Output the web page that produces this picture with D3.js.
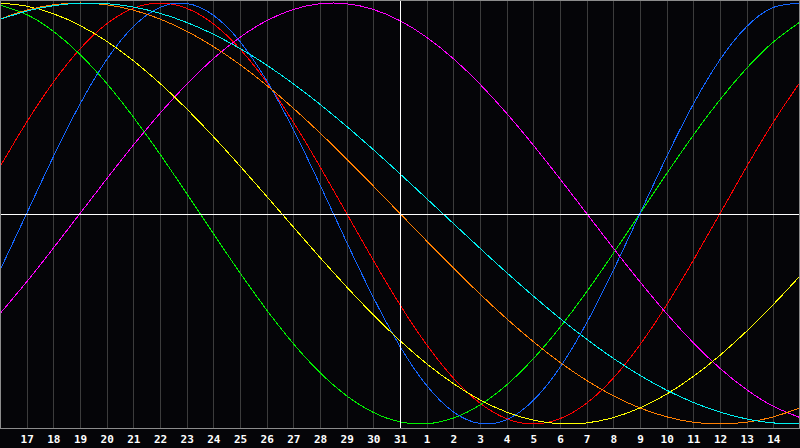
<!DOCTYPE html>
<html><head><meta charset="utf-8">
<script src="https://cdn.jsdelivr.net/npm/d3@7/dist/d3.min.js"></script>
<style>
html,body{margin:0;padding:0;background:#050508;}
svg{display:block;}
</style></head>
<body>
<svg id="chart" width="800" height="448"></svg>
<script>
// Day labels (index 0 = day 16 at left edge, index 30 = day 15 at right edge)
const days = ["16","17","18","19","20","21","22","23","24","25","26","27","28","29","30","31",
              "1","2","3","4","5","6","7","8","9","10","11","12","13","14","15"];
const tickDays = days.slice(1, 30);
const centerDay = "31";

// Series values (percent, -100..100), one value per day
const red = [22.25,43.39,62.35,78.18,90.10,97.49,100,97.49,90.10,78.18,62.35,43.39,22.25,0,-22.25,-43.39,
  -62.35,-78.18,-90.10,-97.49,-100,-97.49,-90.10,-78.18,-62.35,-43.39,-22.25,0,22.25,43.39,62.35];
const green = [98.98,94.50,86.60,75.57,61.82,45.82,28.17,9.51,-9.51,-28.17,-45.82,-61.82,-75.57,-86.60,-94.50,-98.98,
  -99.89,-97.18,-90.96,-81.46,-69.01,-54.06,-37.17,-18.93,0,18.93,37.17,54.06,69.01,81.46,90.96];
const blue = [-26.98,0,26.98,51.96,73.08,88.79,97.91,99.77,94.23,81.70,63.13,39.84,13.62,-13.62,-39.84,-63.13,
  -81.70,-94.23,-99.77,-97.91,-88.79,-73.08,-51.96,-26.98,0,26.98,51.96,73.08,88.79,97.91,99.77];
const magenta = [-47.59,-32.47,-16.46,0,16.46,32.47,47.59,61.42,73.57,83.72,91.58,96.94,99.66,99.66,96.94,91.58,
  83.72,73.57,61.42,47.59,32.47,16.46,0,-16.46,-32.47,-47.59,-61.42,-73.57,-83.72,-91.58,-96.94];
const yellow = [99.96,98.49,94.92,89.33,81.84,72.59,61.81,49.71,36.54,22.60,8.17,-6.42,-20.89,-34.90,-48.17,-60.41,
  -71.36,-80.78,-88.52,-94.36,-98.17,-99.90,-99.49,-96.97,-92.37,-85.81,-77.41,-67.36,-55.89,-43.24,-29.66];
const orange = [92.39,96.59,99.14,100,99.14,96.59,92.39,86.60,79.34,70.71,60.88,50,38.27,25.88,13.05,0,
  -13.05,-25.88,-38.27,-50,-60.88,-70.71,-79.34,-86.60,-92.39,-96.59,-99.14,-100,-99.14,-96.59,-92.39];
const cyan = [92.22,96.14,98.72,99.91,99.70,98.09,95.11,90.78,85.18,78.38,70.50,61.63,51.87,41.39,30.34,18.86,
  7.11,-4.74,-16.52,-28.07,-39.22,-49.83,-59.74,-68.82,-76.90,-83.93,-89.76,-94.35,-97.61,-99.49,-99.98];

const seriesList = [
  {name:"red", values: red, color:"#ff0000"},
  {name:"green", values: green, color:"#00f000"},
  {name:"blue", values: blue, color:"#1466ff"},
  {name:"magenta", values: magenta, color:"#ff00ff"},
  {name:"yellow", values: yellow, color:"#ffff00"},
  {name:"orange", values: orange, color:"#ff7f00"},
  {name:"cyan", values: cyan, color:"#00f0f0"}
];

const svg = d3.select("#chart");
const W = 800, plotBottom = 428;
const x = d3.scalePoint().domain(days).range([0, W]).padding(0);
const y = d3.scaleLinear().domain([-100, 100]).range([424, 3]);

svg.append("rect").attr("width", W).attr("height", 448).attr("fill", "#050508");

// vertical grid lines
svg.append("g").selectAll("line").data(tickDays.filter(d => d !== centerDay)).join("line")
  .attr("x1", d => Math.round(x(d)) + 0.5).attr("x2", d => Math.round(x(d)) + 0.5)
  .attr("y1", 0).attr("y2", plotBottom)
  .attr("stroke", "#3c3c3c").attr("stroke-width", 1).attr("shape-rendering", "crispEdges");

// curves
const line = d3.line().x((v, i) => x(days[i])).y(v => y(v)).curve(d3.curveNatural);
const g = svg.append("g");
seriesList.forEach(s => {
  g.append("path").attr("d", line(s.values)).attr("fill", "none")
    .attr("stroke", s.color).attr("stroke-width", 1).attr("shape-rendering", "crispEdges");
});

// center cross lines
const cy = Math.round(y(0)) + 0.5;
svg.append("line").attr("x1", 0).attr("x2", W).attr("y1", cy).attr("y2", cy)
  .attr("stroke", "#ffffff").attr("shape-rendering", "crispEdges");
const cx = Math.round(x(centerDay)) + 0.5;
svg.append("line").attr("x1", cx).attr("x2", cx).attr("y1", 0).attr("y2", plotBottom)
  .attr("stroke", "#ffffff").attr("shape-rendering", "crispEdges");

// frame
svg.append("path").attr("d", `M0.5,${plotBottom + 0.5}V0.5H799.5V${plotBottom + 0.5}`)
  .attr("fill", "none").attr("stroke", "#8c8c8c").attr("shape-rendering", "crispEdges");
svg.append("line").attr("x1", 0).attr("x2", W).attr("y1", plotBottom + 0.5).attr("y2", plotBottom + 0.5)
  .attr("stroke", "#8c8c8c").attr("shape-rendering", "crispEdges");

// axis labels
const axis = d3.axisBottom(x).tickValues(tickDays).tickSize(0).tickPadding(0);
const ax = svg.append("g").attr("transform", `translate(0,${plotBottom})`).call(axis);
ax.select(".domain").remove();
ax.selectAll("text")
  .attr("y", 15).attr("dy", null)
  .attr("fill", "#ffffff")
  .style("font-family", "'DejaVu Sans Mono', monospace")
  .style("font-weight", "bold")
  .style("font-size", "11px");
</script>
</body></html>
